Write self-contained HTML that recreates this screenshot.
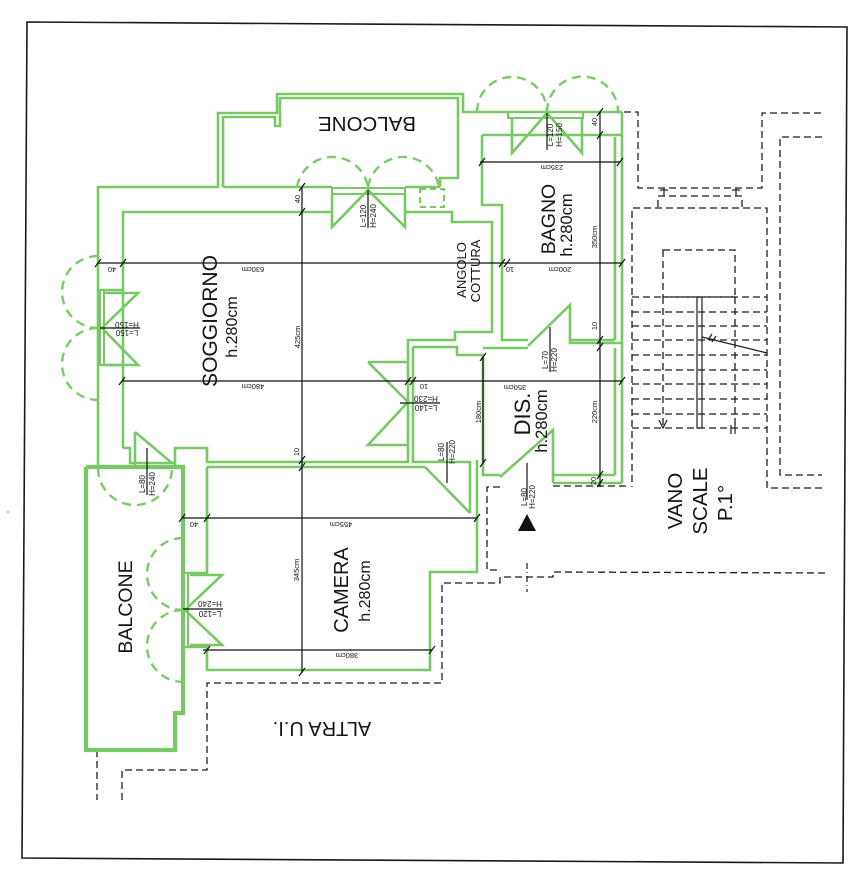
<!DOCTYPE html>
<html><head><meta charset="utf-8"><style>
html,body{margin:0;padding:0;background:#fff;}
svg{display:block;}
text{font-family:"Liberation Sans",Arial,sans-serif;fill:#151515;}
</style></head><body>
<svg width="865" height="887" viewBox="0 0 865 887" xmlns="http://www.w3.org/2000/svg">
<rect width="865" height="887" fill="#fff"/>
<!-- frame -->
<polygon points="27,22 847,27 843,863 22,858" fill="none" stroke="#1a1a1a" stroke-width="1.6"/>
<circle cx="8" cy="512" r="1" fill="#999"/>

<!-- black dashed: other units / stairs -->
<g fill="none" stroke="#1e1e1e" stroke-width="1.3" stroke-dasharray="7,4">
<polyline points="97,750 97,800"/>
<polyline points="122,800 122,770 207,770 207,683 442,683 442,583 500,583 500,577 553,577 553,572 827,573"/>
<polyline points="500,487 487,487 487,570 500,570"/>
<polyline points="553,486 630,486"/>
<polyline points="602,112 638,112 638,188 762,188 762,113 822,113"/>
<polyline points="822,137 780,137 780,475 822,475"/>
<polyline points="822,488 767,488 767,208 632,208 632,487"/>
<polyline points="658,207 658,196 742,196 742,207"/>
<rect x="663" y="250" width="72" height="47"/>
<line x1="632" y1="297" x2="767" y2="297"/>
<line x1="632" y1="312" x2="767" y2="312"/>
<line x1="632" y1="326" x2="767" y2="326"/>
<line x1="632" y1="340" x2="767" y2="340"/>
<line x1="632" y1="355" x2="767" y2="355"/>
<line x1="632" y1="370" x2="767" y2="370"/>
<line x1="632" y1="384" x2="767" y2="384"/>
<line x1="632" y1="399" x2="767" y2="399"/>
<line x1="632" y1="414" x2="767" y2="414"/>
<line x1="632" y1="428" x2="767" y2="428"/>
<line x1="663" y1="297" x2="663" y2="428"/>
<line x1="735" y1="297" x2="735" y2="428"/>
</g>
<g fill="none" stroke="#1e1e1e" stroke-width="1.2">
<line x1="664" y1="188" x2="664" y2="196"/><line x1="736" y1="188" x2="736" y2="196"/>
<line x1="660" y1="190" x2="668" y2="190"/><line x1="732" y1="190" x2="740" y2="190"/>
<rect x="697" y="297" width="5" height="131"/>
<line x1="702" y1="337" x2="767" y2="353"/><line x1="708" y1="340" x2="712" y2="334"/><line x1="712" y1="342" x2="716" y2="336"/>
<polyline points="659,420 663,428 667,420"/>
<line x1="731" y1="425" x2="731" y2="434"/><line x1="735" y1="425" x2="735" y2="434"/>
<line x1="527" y1="563" x2="527" y2="592" stroke-dasharray="6,3,1,3"/>
</g>

<!-- green walls -->
<g fill="none" stroke="#78c966" stroke-width="2.6" stroke-linejoin="miter">
<polyline points="98,468 98,187 218,187 218,113 277,113 277,94 463,94 463,112 622,112"/>
<polyline points="223,187 223,117 275,117 275,126 280,126 280,98 458,98 458,178 440,178 440,187"/>
<line x1="223" y1="187" x2="332" y2="187"/>
<line x1="405" y1="187" x2="440" y2="187"/>
<rect x="420" y="189" width="24" height="18" stroke-dasharray="6,4" stroke-width="2"/>
<polyline points="123,448 123,212 332,212"/>
<rect x="332" y="188" width="73" height="6" stroke-width="2"/>
<polyline points="332,194 332,227 368,190 405,227 405,194"/>
<polyline points="405,212 452,212 452,222 492,222 492,332 455,332 455,340 408,340 408,462 207,462 207,448 175,448 175,468"/>
<polyline points="123,448 130,448 130,463 175,463"/>
<polyline points="135,432 135,466"/>
<line x1="135" y1="432" x2="172" y2="463"/>
<!-- left window soggiorno -->
<rect x="100" y="290" width="4" height="75" stroke-width="2"/>
<line x1="100" y1="290" x2="123" y2="290"/><line x1="100" y1="365" x2="123" y2="365"/>
<polyline points="105,293 138,293 102,328 138,365 105,365"/>
<!-- kitchen/dis -->
<polyline points="413,347 457,347 457,355 483,355 483,475 500,475"/>
<polyline points="413,347 413,462 470,462 470,467"/>
<line x1="483" y1="348" x2="528" y2="348"/>
<polyline points="528,346 570,305 570,343 622,343"/>
<polyline points="368,362 408,362"/>
<polyline points="368,362 408,402 368,445 408,445"/>
<!-- bagno -->
<polyline points="482,135 482,205 502,205 502,340 528,340"/>
<line x1="482" y1="135" x2="622" y2="135"/>
<line x1="570" y1="340" x2="615" y2="340"/>
<line x1="615" y1="137" x2="615" y2="340"/>
<line x1="622" y1="112" x2="622" y2="483"/>
<line x1="615" y1="348" x2="615" y2="475"/>
<polyline points="553,483 553,475 615,475"/>
<line x1="553" y1="483" x2="622" y2="483"/>
<rect x="508" y="112" width="75" height="6" stroke-width="2"/>
<polyline points="512,118 512,153 547,113 582,153 582,118"/>
<polyline points="500,477 553,430 553,480"/>
<!-- camera -->
<line x1="207" y1="467" x2="425" y2="467"/>
<line x1="425" y1="467" x2="470" y2="513"/>
<line x1="470" y1="467" x2="470" y2="513"/>
<polyline points="477,460 477,572 430,572 430,670 207,670 207,647 188,647"/>
<polyline points="207,467 207,573 188,573"/>
<rect x="183" y="573" width="5" height="74" stroke-width="2"/>
<polyline points="190,575 222,575 185,610 222,645 190,645"/>
<!-- lower balcony -->
<polyline points="86,467 183,467 183,713 175,713 175,750 86,750 86,467" stroke-width="4.2"/>
</g>
<!-- green dashed arcs -->
<g fill="none" stroke="#7ccb6a" stroke-width="2.4" stroke-dasharray="9,6">
<path d="M297,187 A36,36 0 0 1 368,187"/>
<path d="M368,187 A36,36 0 0 1 439,187"/>
<path d="M477,112 A35,35 0 0 1 547,112"/>
<path d="M547,112 A35,35 0 0 1 618,112"/>
<path d="M98,256 A36,36 0 0 0 98,328"/>
<path d="M98,328 A36,36 0 0 0 98,400"/>
<path d="M183,538 A36,36 0 0 0 183,610"/>
<path d="M183,610 A36,36 0 0 0 183,682"/>
<path d="M98,468 A37,37 0 0 0 172,468"/>
</g>

<!-- dimension lines -->
<g stroke="#111" stroke-width="1.2" fill="none">
<line x1="98" y1="263" x2="622" y2="263"/>
<line x1="122" y1="381" x2="622" y2="381"/>
<line x1="302" y1="187" x2="302" y2="673"/>
<line x1="182" y1="518" x2="477" y2="518"/>
<line x1="203" y1="650" x2="432" y2="650"/>
<line x1="480" y1="162" x2="620" y2="162"/>
<line x1="600" y1="112" x2="600" y2="487"/>
<line x1="483" y1="357" x2="483" y2="463"/>
<!-- label dividers -->
<line x1="368" y1="190" x2="368" y2="228"/>
<line x1="547" y1="113" x2="547" y2="150"/>
<line x1="100" y1="328" x2="140" y2="328"/>
<line x1="183" y1="609" x2="223" y2="609"/>
<line x1="400" y1="403" x2="440" y2="403"/>
<line x1="447" y1="442" x2="447" y2="483"/>
<line x1="550" y1="327" x2="550" y2="372"/>
<line x1="527" y1="463" x2="527" y2="500"/>
<line x1="147" y1="448" x2="147" y2="495"/>
<!-- ticks -->
<path d="M95,267 l6,-8 M120,267 l6,-8 M499,267 l6,-8 M504,267 l6,-8 M619,267 l6,-8
M119,385 l6,-8 M405,385 l6,-8 M410,385 l6,-8 M619,385 l6,-8
M299,191 l6,-8 M299,216 l6,-8 M299,464 l6,-8 M299,471 l6,-8 M299,676 l6,-8
M179,522 l6,-8 M204,522 l6,-8 M474,522 l6,-8
M204,654 l6,-8 M429,654 l6,-8
M479,166 l6,-8 M617,166 l6,-8
M597,116 l6,-8 M597,139 l6,-8 M597,344 l6,-8 M597,351 l6,-8 M597,479 l6,-8 M597,487 l6,-8
M480,361 l6,-8 M480,467 l6,-8"/>
</g>
<polygon points="518,531 536,531 527,514" fill="#111"/>

<!-- room labels -->
<text x="217" y="321" font-size="21" text-anchor="middle" transform="rotate(-90 217 321)">SOGGIORNO</text>
<text x="237" y="327" font-size="16" text-anchor="middle" transform="rotate(-90 237 327)">h.280cm</text>
<text x="367" y="117" font-size="20.5" text-anchor="middle" transform="rotate(180 367 117)">BALCONE</text>
<text x="348" y="590" font-size="20" text-anchor="middle" transform="rotate(-90 348 590)">CAMERA</text>
<text x="370" y="591" font-size="16" text-anchor="middle" transform="rotate(-90 370 591)">h.280cm</text>
<text x="132" y="607" font-size="19.5" text-anchor="middle" transform="rotate(-90 132 607)">BALCONE</text>
<text x="322" y="722" font-size="20" text-anchor="middle" transform="rotate(180 322 722)">ALTRA U.I.</text>
<text x="555" y="219" font-size="19.5" text-anchor="middle" transform="rotate(-90 555 219)">BAGNO</text>
<text x="572" y="225" font-size="16.5" text-anchor="middle" transform="rotate(-90 572 225)">h.280cm</text>
<text x="466" y="270" font-size="13" text-anchor="middle" transform="rotate(-90 466 270)">ANGOLO</text>
<text x="480" y="271" font-size="13" text-anchor="middle" transform="rotate(-90 480 271)">COTTURA</text>
<text x="530" y="414" font-size="22" text-anchor="middle" transform="rotate(-90 530 414)">DIS.</text>
<text x="547" y="421" font-size="16.5" text-anchor="middle" transform="rotate(-90 547 421)">h.280cm</text>
<text x="682" y="501" font-size="20.5" text-anchor="middle" transform="rotate(-90 682 501)">VANO</text>
<text x="707" y="501" font-size="20.5" text-anchor="middle" transform="rotate(-90 707 501)">SCALE</text>
<text x="732" y="503" font-size="20.5" text-anchor="middle" transform="rotate(-90 732 503)">P.1°</text>

<!-- opening labels -->
<g font-size="8">
<text x="366" y="216" text-anchor="middle" transform="rotate(-90 366 216)">L=120</text>
<text x="376" y="216" text-anchor="middle" transform="rotate(-90 376 216)">H=240</text>
<text x="553" y="135" text-anchor="middle" transform="rotate(-90 553 135)">L=120</text>
<text x="562" y="135" text-anchor="middle" transform="rotate(-90 562 135)">H=150</text>
<text x="127" y="322" text-anchor="middle" transform="rotate(180 127 322)">H=150</text>
<text x="127" y="330" text-anchor="middle" transform="rotate(180 127 330)">L=150</text>
<text x="210" y="601" text-anchor="middle" transform="rotate(180 210 601)">H=240</text>
<text x="210" y="611" text-anchor="middle" transform="rotate(180 210 611)">L=120</text>
<text x="426" y="396" text-anchor="middle" transform="rotate(180 426 396)">H=230</text>
<text x="426" y="405" text-anchor="middle" transform="rotate(180 426 405)">L=140</text>
<text x="444" y="452" text-anchor="middle" transform="rotate(-90 444 452)">L=80</text>
<text x="455" y="452" text-anchor="middle" transform="rotate(-90 455 452)">H=220</text>
<text x="548" y="360" text-anchor="middle" transform="rotate(-90 548 360)">L=70</text>
<text x="557" y="360" text-anchor="middle" transform="rotate(-90 557 360)">H=220</text>
<text x="527" y="497" text-anchor="middle" transform="rotate(-90 527 497)">L=80</text>
<text x="535" y="497" text-anchor="middle" transform="rotate(-90 535 497)">H=220</text>
<text x="145" y="484" text-anchor="middle" transform="rotate(-90 145 484)">L=80</text>
<text x="155" y="484" text-anchor="middle" transform="rotate(-90 155 484)">H=240</text>
</g>

<!-- dimension labels -->
<g font-size="7.5">
<text x="112" y="267" text-anchor="middle" transform="rotate(180 112 267)">40</text>
<text x="253" y="267" text-anchor="middle" transform="rotate(180 253 267)">630cm</text>
<text x="253" y="384" text-anchor="middle" transform="rotate(180 253 384)">480cm</text>
<text x="510" y="267" text-anchor="middle" transform="rotate(180 510 267)">10</text>
<text x="560" y="267" text-anchor="middle" transform="rotate(180 560 267)">200cm</text>
<text x="552" y="165" text-anchor="middle" transform="rotate(180 552 165)">235cm</text>
<text x="424" y="384" text-anchor="middle" transform="rotate(180 424 384)">10</text>
<text x="515" y="385" text-anchor="middle" transform="rotate(180 515 385)">350cm</text>
<text x="194" y="522" text-anchor="middle" transform="rotate(180 194 522)">40</text>
<text x="341" y="522" text-anchor="middle" transform="rotate(180 341 522)">455cm</text>
<text x="347" y="653" text-anchor="middle" transform="rotate(180 347 653)">380cm</text>
<text x="300" y="199" text-anchor="middle" transform="rotate(-90 300 199)">40</text>
<text x="300" y="337" text-anchor="middle" transform="rotate(-90 300 337)">425cm</text>
<text x="299" y="452" text-anchor="middle" transform="rotate(-90 299 452)">10</text>
<text x="299" y="570" text-anchor="middle" transform="rotate(-90 299 570)">345cm</text>
<text x="597" y="122" text-anchor="middle" transform="rotate(-90 597 122)">40</text>
<text x="597" y="237" text-anchor="middle" transform="rotate(-90 597 237)">350cm</text>
<text x="597" y="326" text-anchor="middle" transform="rotate(-90 597 326)">10</text>
<text x="597" y="412" text-anchor="middle" transform="rotate(-90 597 412)">220cm</text>
<text x="596" y="481" text-anchor="middle" transform="rotate(-90 596 481)">20</text>
<text x="481" y="412" text-anchor="middle" transform="rotate(-90 481 412)">180cm</text>
</g>
</svg>
</body></html>
